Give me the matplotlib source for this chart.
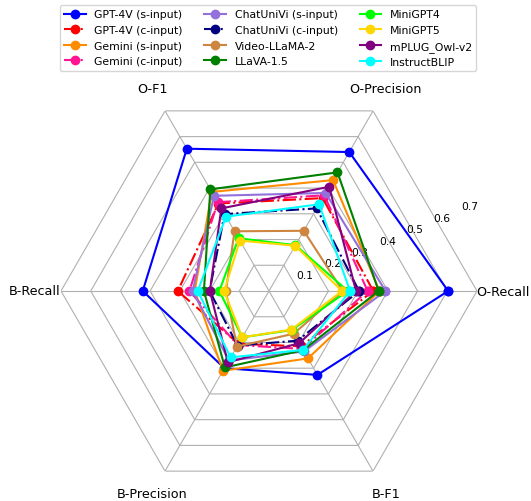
## LIBRARY------------------------------------------------------------------------
import numpy as np
import matplotlib
matplotlib.use('Agg')
import matplotlib.pyplot as plt
## -------------------------------------------------------------------------------

## DATA---------------------------------------------------------------------------
# order of the spokes, counter-clockwise starting at 3 o'clock
categories = ['O-Recall', 'O-Precision', 'O-F1', 'B-Recall', 'B-Precision', 'B-F1']

model_names = ['GPT-4V (s-input)', 'GPT-4V (c-input)', 'Gemini (s-input)', 'Gemini (c-input)',
               'ChatUniVi (s-input)', 'ChatUniVi (c-input)', 'Video-LLaMA-2', 'LLaVA-1.5',
               'MiniGPT4', 'MiniGPT5', 'mPLUG_Owl-v2', 'InstructBLIP']

gpt4v_s     = [0.603, 0.540, 0.553, 0.425, 0.300, 0.326]
gpt4v_c     = [0.351, 0.361, 0.340, 0.307, 0.205, 0.215]
gemini_s    = [0.372, 0.431, 0.385, 0.250, 0.310, 0.262]
gemini_c    = [0.332, 0.372, 0.345, 0.268, 0.210, 0.225]
chatunivi_s = [0.392, 0.381, 0.370, 0.257, 0.270, 0.235]
chatunivi_c = [0.303, 0.321, 0.299, 0.200, 0.212, 0.193]
videollama2 = [0.248, 0.234, 0.232, 0.145, 0.216, 0.166]
llava15     = [0.369, 0.461, 0.395, 0.219, 0.297, 0.230]
minigpt4    = [0.265, 0.178, 0.205, 0.167, 0.180, 0.152]
minigpt5    = [0.246, 0.176, 0.196, 0.151, 0.180, 0.150]
mplug_owl2  = [0.293, 0.405, 0.321, 0.199, 0.277, 0.203]
instructblip = [0.273, 0.337, 0.289, 0.240, 0.258, 0.229]

r_ticks = [0.1, 0.2, 0.3, 0.4, 0.5, 0.6, 0.7]
## -------------------------------------------------------------------------------

## STYLE--------------------------------------------------------------------------
# [values, color, linestyle]
Series_Array = [
    [gpt4v_s, 'blue', '-'],
    [gpt4v_c, 'red', '-.'],
    [gemini_s, 'darkorange', '-'],
    [gemini_c, 'deeppink', '-.'],
    [chatunivi_s, 'mediumpurple', '-'],
    [chatunivi_c, 'navy', '-.'],
    [videollama2, 'peru', '-'],
    [llava15, 'green', '-'],
    [minigpt4, 'lime', '-'],
    [minigpt5, 'gold', '-'],
    [mplug_owl2, 'purple', '-'],
    [instructblip, 'cyan', '-'],
]

grid_color = '#b0b0b0'
label_size = 9.2
tick_size = 7.7
legend_size = 7.8
## -------------------------------------------------------------------------------

fig = plt.figure(figsize=(5.31, 5.02), dpi=100)
# polar axes centred on the hexagon, radius = 0.7
ax = fig.add_axes([61 / 531, 2 / 502, 416 / 531, 416 / 502], projection='polar')

angles = np.linspace(0, 2 * np.pi, len(categories), endpoint=False)
closed = np.concatenate([angles, angles[:1]])
r_max = r_ticks[-1]

# hexagonal grid
for r in r_ticks:
    ax.plot(closed, [r] * len(closed), color=grid_color, lw=0.8, zorder=0)
for a in angles:
    ax.plot([a, a], [0, r_max], color=grid_color, lw=0.8, zorder=0)

# series
for (vals, col, ls), name in zip(Series_Array, model_names):
    v = list(vals) + [vals[0]]
    ax.plot(closed, v, color=col, linestyle=ls, lw=1.5, marker='o', markersize=6, label=name)

##PLOT SETTING-------------------------------------------------------------------------
ax.set_ylim(0, r_max)
ax.grid(False)
ax.spines['polar'].set_visible(False)
ax.set_xticks(angles)
ax.set_xticklabels([])
ax.set_yticks(r_ticks)
ax.set_yticklabels([f'{t:.1f}' for t in r_ticks], fontsize=tick_size)
ax.set_rlabel_position(22.5)
ax.tick_params(length=0)

for a, name in zip(angles, categories):
    ax.text(a, r_max * 1.125, name, fontsize=label_size, ha='center', va='center')

fig.legend(loc='upper center', bbox_to_anchor=(268 / 531, 1 - 6 / 502), ncol=3,
           fontsize=legend_size, borderaxespad=0, labelspacing=0.52)
## END PLOT SETTINGS---------------------------------------------------------------------

fig.savefig('out.png', dpi=100)
